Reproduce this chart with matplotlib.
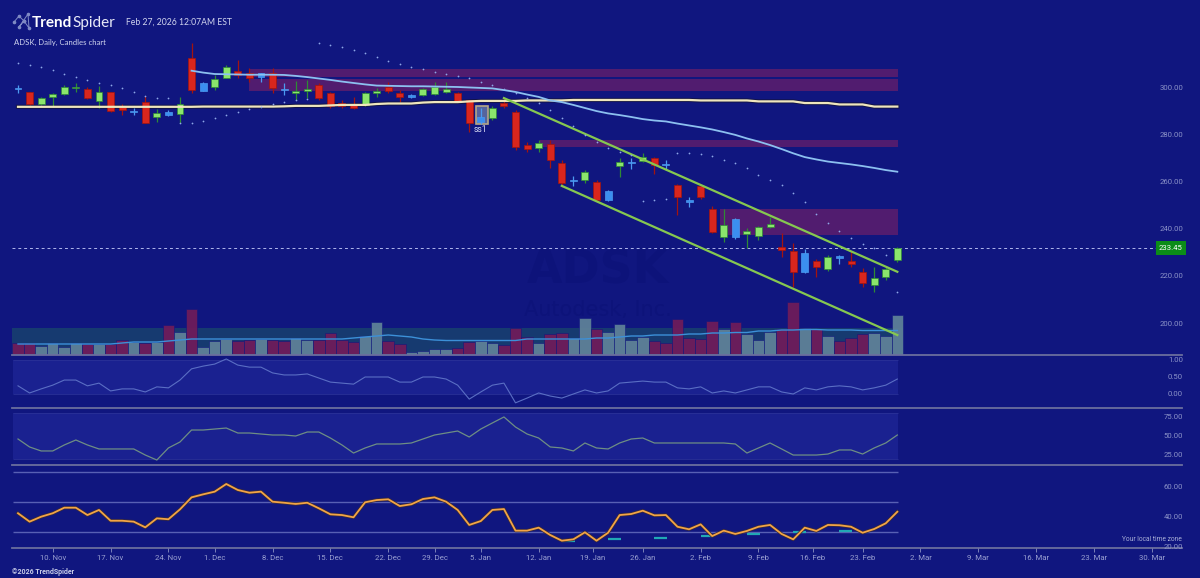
import matplotlib
matplotlib.use("Agg")
import matplotlib.pyplot as plt
import matplotlib.patheffects as pe
from matplotlib.patches import Rectangle
from matplotlib.lines import Line2D
from matplotlib import transforms
import numpy as np

# ---------------- data ----------------
tick_pos = [3, 8, 13, 17, 22, 27, 32, 36, 40, 45, 49.7, 54, 59, 64, 68.7, 73, 78, 83, 88, 93, 98]
tick_labels = ["10. Nov", "17. Nov", "24. Nov", "1. Dec", "8. Dec", "15. Dec", "22. Dec", "29. Dec",
               "5. Jan", "12. Jan", "19. Jan", "26. Jan", "2. Feb", "9. Feb", "16. Feb", "23. Feb",
               "2. Mar", "9. Mar", "16. Mar", "23. Mar", "30. Mar"]

opens = [300.7, 299.4, 294.5, 297.3, 298.7, 301.2, 300.7, 295.9, 299.5, 293.3,
         291.0, 295.5, 288.9, 289.8, 290.3, 313.9, 303.5, 301.6, 305.6, 308.6,
         307.8, 306.1, 307.8, 300.5, 299.2, 299.9, 302.5, 299.0, 294.8, 294.1,
         294.1, 299.0, 301.6, 299.3, 297.6, 298.3, 298.7, 299.7, 299.0, 296.2,
         286.9, 288.4, 294.8, 291.0, 277.1, 275.7, 277.6, 269.4, 261.9, 262.3,
         261.6, 253.8, 268.2, 269.4, 270.5, 271.5, 268.5, 260.2, 253.1, 259.8,
         249.9, 238.3, 238.0, 239.4, 238.6, 242.3, 234.0, 232.3, 223.4, 228.1,
         224.5, 229.4, 228.0, 223.4, 217.8, 221.1, 228.4]
highs = [302.5, 299.7, 297.6, 299.3, 302.6, 303.3, 301.6, 302.1, 299.7, 294.5,
         292.7, 297.9, 292.2, 292.0, 297.6, 320.2, 304.0, 306.8, 311.0, 313.1,
         309.7, 307.8, 309.7, 303.3, 304.2, 304.7, 303.3, 299.7, 296.2, 297.6,
         299.7, 301.2, 303.9, 300.4, 298.7, 301.2, 303.9, 303.9, 299.7, 296.2,
         292.8, 293.7, 297.0, 291.9, 278.5, 279.2, 279.2, 270.8, 264.0, 266.5,
         262.3, 258.1, 271.5, 271.5, 273.6, 272.2, 270.8, 260.6, 255.2, 260.2,
         251.3, 249.9, 246.1, 241.8, 242.8, 246.5, 240.0, 235.5, 232.9, 228.7,
         230.5, 230.5, 232.0, 224.9, 225.6, 225.6, 234.0]
lows = [299.2, 294.1, 294.1, 293.4, 298.3, 299.7, 296.5, 292.7, 291.2, 289.8,
        289.8, 286.3, 287.0, 289.4, 286.3, 299.2, 299.8, 300.4, 305.4, 305.4,
        303.9, 303.9, 299.0, 298.3, 296.2, 296.9, 296.2, 292.7, 292.7, 292.2,
        293.7, 297.6, 299.3, 295.5, 296.9, 297.9, 298.3, 299.0, 295.5, 282.8,
        286.0, 287.7, 292.8, 275.0, 274.3, 274.3, 267.3, 259.2, 259.8, 260.9,
        253.1, 253.5, 263.7, 267.0, 270.1, 264.8, 266.5, 247.5, 251.0, 254.1,
        239.7, 236.2, 237.2, 233.4, 236.9, 241.8, 229.8, 217.1, 222.8, 221.1,
        223.9, 226.7, 225.6, 217.1, 214.9, 219.9, 227.7]
closes = [300.9, 294.5, 296.9, 298.6, 301.8, 301.8, 296.9, 299.5, 291.5, 291.9,
          291.4, 286.6, 290.8, 291.2, 294.5, 300.4, 300.1, 305.1, 310.0, 306.8,
          305.4, 307.5, 301.2, 300.9, 300.1, 300.7, 296.9, 293.6, 293.6, 292.7,
          299.3, 300.0, 300.1, 297.6, 298.0, 300.7, 301.6, 300.7, 295.9, 286.3,
          289.0, 292.9, 293.6, 276.1, 275.3, 277.8, 270.8, 260.9, 262.3, 265.8,
          253.8, 257.8, 269.8, 270.0, 271.9, 268.6, 269.1, 255.2, 253.8, 255.2,
          240.4, 243.2, 245.6, 240.7, 242.5, 243.7, 232.6, 223.4, 231.2, 225.3,
          229.6, 230.1, 226.7, 218.5, 220.6, 224.5, 233.45]
candle_kind = ("brggggrgrr" "brgbgrbggr" "rbrbggrrrr" "ggrrbgggrr" "bgrrrgrrbg"
               "rbgbgrbrbr" "rgbgggrrbr" "gbrrggg")

volume = [1.17, 1.17, 0.93, 1.23, 0.83, 1.23, 1.10, 1.07, 1.10, 1.50,
          1.33, 1.17, 1.33, 3.00, 2.27, 4.57, 0.83, 1.43, 1.57, 1.37,
          1.47, 1.57, 1.50, 1.43, 1.70, 1.50, 1.50, 2.23, 1.50, 1.33,
          1.90, 3.27, 1.40, 1.07, 0.33, 0.43, 0.60, 0.60, 0.73, 1.27,
          1.43, 1.23, 1.00, 2.67, 1.83, 1.17, 2.07, 2.17, 1.67, 3.73,
          2.60, 2.27, 3.07, 1.50, 1.80, 1.40, 1.23, 3.57, 1.73, 1.60,
          3.43, 2.60, 3.33, 2.07, 1.50, 2.33, 2.57, 5.27, 2.67, 2.57,
          1.93, 1.40, 1.73, 2.07, 2.17, 1.93, 4.00]
volume_dir = ("dduuuududd" "udududuuud" "dudduudddd" "uudduuuudd" "uudddudduu"
              "duuuuddddd" "duduuuddud" "uddduuu")
volume_ma = [1.10, 1.10, 1.10, 1.10, 1.10, 1.10, 1.10, 1.10, 1.10, 1.20,
             1.30, 1.30, 1.30, 1.40, 1.50, 1.60, 1.60, 1.60, 1.60, 1.60,
             1.60, 1.60, 1.60, 1.60, 1.60, 1.60, 1.60, 1.60, 1.60, 1.70,
             1.80, 1.90, 2.00, 1.90, 1.80, 1.60, 1.50, 1.45, 1.45, 1.45,
             1.45, 1.45, 1.45, 1.45, 1.60, 1.60, 1.60, 1.60, 1.60, 1.60,
             1.70, 1.70, 1.80, 1.90, 1.90, 2.00, 2.00, 2.00, 2.10, 2.10,
             2.20, 2.20, 2.25, 2.25, 2.40, 2.40, 2.50, 2.50, 2.55, 2.55,
             2.50, 2.50, 2.50, 2.45, 2.45, 2.45, 2.45]

sma200 = [293.3, 293.3, 293.3, 293.3, 293.3, 293.3, 293.3, 293.3, 293.3, 293.3,
          293.3, 293.3, 293.3, 293.3, 293.3, 293.3, 293.4, 293.4, 293.4, 293.4,
          293.4, 293.4, 293.4, 293.5, 293.7, 293.7, 293.7, 293.9, 294.1, 294.1,
          294.1, 294.5, 294.7, 294.7, 294.7, 295.1, 295.3, 295.3, 295.3, 295.6,
          295.8, 295.8, 295.8, 295.8, 296.0, 296.0, 296.0, 296.0, 296.2, 296.2,
          296.2, 296.2, 296.2, 296.2, 296.2, 296.2, 296.2, 296.2, 296.2, 296.0,
          296.0, 296.0, 296.0, 296.0, 295.6, 295.6, 295.6, 295.6, 294.9, 294.9,
          294.9, 294.3, 294.3, 294.3, 293.4, 293.4, 293.4]
vwap_start = 15
vwap = [308.6, 307.8, 307.2, 307.1, 307.0, 306.9, 306.9, 306.9, 306.8, 306.4,
        305.9, 305.3, 304.7, 304.0, 303.4, 302.8, 302.3, 302.2, 302.1, 302.0,
        302.0, 301.9, 301.8, 301.7, 301.5, 301.3, 301.1, 300.4, 299.6, 298.5,
        297.5, 296.0, 295.3, 294.1, 292.8, 291.5, 290.5, 289.8, 289.0, 288.1,
        287.5, 287.1, 286.2, 285.4, 284.6, 283.7, 282.6, 281.4, 279.9, 278.6,
        277.1, 275.4, 273.6, 272.0, 271.0, 270.1, 269.5, 268.9, 268.2, 267.4,
        266.5, 265.8]
sar = [311.9, 311.0, 310.2, 308.9, 307.2, 305.9, 304.7, 303.4, 302.5, 301.3,
       299.6, 297.9, 297.0, 297.0, 286.4, 286.4, 287.3, 288.6, 289.8, 291.1,
       292.4, 293.2, 294.5, 295.3, 296.2, 296.6, 320.3, 319.5, 318.6, 317.4,
       316.1, 314.4, 312.7, 311.4, 310.2, 309.3, 308.0, 307.2, 306.4, 305.5,
       303.8, 302.5, 300.9, 299.2, 297.0, 294.9, 292.0, 288.6, 285.2, 281.4,
       278.4, 275.9, 274.2, 272.9, 253.4, 253.8, 254.2, 273.7, 273.7, 273.3,
       272.5, 270.8, 269.5, 267.4, 264.4, 262.3, 260.2, 256.8, 253.0, 247.9,
       244.1, 240.7, 237.7, 235.2, 233.5, 230.5, 214.8]

zones = [  # (start index, low price, high price)
    (20.0, 305.9, 309.3),
    (20.0, 299.8, 304.9),
    (45.1, 276.1, 279.2),
    (60.7, 239.0, 250.0),
]
channel_upper_idx = [42, 76]
channel_upper_val = [297.0, 223.4]
channel_lower_idx = [47, 76]
channel_lower_val = [259.8, 196.6]
last_price = 233.45
price_ticks = [300, 280, 260, 240, 220, 200]

osc1 = [0.24, 0.03, 0.15, 0.26, 0.41, 0.41, 0.24, 0.32, 0.09, 0.15,
        0.15, 0.06, 0.21, 0.18, 0.41, 0.74, 0.82, 0.88, 1.03, 0.85,
        0.79, 0.79, 0.62, 0.56, 0.56, 0.59, 0.47, 0.35, 0.32, 0.29,
        0.50, 0.50, 0.50, 0.35, 0.35, 0.50, 0.50, 0.44, 0.26, -0.15,
        0.06, 0.26, 0.32, -0.26, -0.12, 0.03, -0.06, -0.12, 0.00, 0.12,
        0.03, 0.09, 0.32, 0.35, 0.38, 0.35, 0.35, 0.18, 0.15, 0.21,
        0.03, 0.09, 0.03, 0.12, 0.21, 0.21, 0.06, 0.00, 0.18, 0.12,
        0.21, 0.24, 0.21, 0.12, 0.18, 0.26, 0.44]
osc1_ticks = [1.0, 0.5, 0.0]

osc2 = [46.1, 35.7, 30.5, 30.5, 38.3, 44.8, 38.3, 33.1, 33.1, 33.1,
        33.1, 25.2, 18.7, 34.4, 42.2, 57.8, 57.8, 59.1, 60.4, 53.9,
        53.9, 52.6, 51.3, 51.3, 50.0, 55.2, 55.2, 47.4, 38.3, 27.8,
        34.4, 39.6, 39.6, 39.6, 40.9, 46.1, 51.3, 53.9, 56.5, 48.7,
        59.1, 67.0, 74.8, 61.7, 52.6, 47.4, 35.7, 34.4, 30.5, 40.9,
        34.4, 33.1, 40.9, 46.1, 47.4, 40.9, 40.9, 40.9, 40.9, 40.9,
        40.9, 40.9, 39.6, 27.8, 34.4, 40.9, 33.1, 25.2, 25.2, 25.2,
        26.5, 31.8, 31.8, 26.5, 34.4, 40.9, 51.3]
osc2_ticks = [75, 50, 25]

osc3 = [42.3, 36.7, 40.0, 42.3, 46.0, 46.0, 41.1, 44.5, 37.3, 37.3,
        36.7, 32.9, 38.9, 38.3, 44.9, 52.9, 54.9, 56.7, 61.8, 57.8,
        56.0, 56.7, 50.0, 49.3, 48.5, 49.3, 45.6, 41.6, 41.1, 39.6,
        49.6, 51.1, 51.6, 47.1, 48.3, 51.8, 52.9, 50.0, 44.5, 34.5,
        37.1, 44.5, 45.1, 30.7, 30.7, 32.7, 27.8, 24.0, 24.9, 29.6,
        24.0, 29.3, 41.1, 41.8, 44.0, 40.9, 41.1, 33.3, 31.6, 34.9,
        27.1, 30.7, 28.5, 30.5, 33.3, 34.5, 28.5, 24.9, 32.7, 30.5,
        34.5, 34.3, 33.3, 29.3, 31.8, 35.6, 43.3]
osc3_ticks = [60, 40, 20]
osc3_levels = [70, 50, 30]
dash_idx = [47, 51, 55, 59, 63, 67, 71]
dash_val = [24.0, 24.9, 26.0, 27.1, 28.5, 29.6, 30.7]

# ---------------- style ----------------
BG = "#10167f"
FONT = ["Roboto", "DejaVu Sans"]
LBL = "#8b92c8"
SEP = "#6a6e9e"
W, H = 1200, 578

fig = plt.figure(figsize=(12, 5.78), dpi=100, facecolor=BG)


def fx(px):
    return px / W


def fy(py):
    return 1 - py / H


def panel(top, bottom, z=2):
    ax = fig.add_axes([fx(12), fy(bottom), fx(1186) - fx(12), (bottom - top) / H], zorder=z)
    ax.patch.set_visible(False)
    for s in ax.spines.values():
        s.set_visible(False)
    ax.set_xlim(-0.519, 100.95)
    ax.set_xticks([])
    ax.set_yticks([])
    return ax


def right_labels(ax, vals, fmt="{:.2f}", dy=0.0):
    tr = transforms.offset_copy(ax.get_yaxis_transform(), fig=fig, x=0, y=dy, units="points")
    for v in vals:
        ax.text(0.9975, v, fmt.format(v), transform=tr, ha="right", va="center",
                fontsize=5.6, color=LBL, family=FONT)


x = np.arange(len(closes))
n = len(closes)

# watermark
fig.text(fx(598), fy(271), "ADSK", fontsize=33, fontweight="bold", color="#0d137a",
         ha="center", va="center", zorder=-5, family=["DejaVu Sans"])
fig.text(fx(598), fy(310), "Autodesk, Inc.", fontsize=15, color="#0d137a",
         ha="center", va="center", zorder=-5, family=["DejaVu Sans"])

# volume axis (below price)
axv = panel(32, 355, z=1)
axv.set_ylim(0, 32.3)
axv.fill_between([-0.5, n - 0.5], 0, 2.7, color="#163a70", lw=0, zorder=0)
vcol = ["#5e8098" if d == "u" else "#6e1c5a" for d in volume_dir]
axv.bar(x, volume, width=1.0, color=vcol, edgecolor=BG, linewidth=0.4, alpha=0.95, zorder=1)
axv.plot(x, volume_ma, color="#3c90d8", lw=1.0, zorder=2)

# price axis
ax = panel(32, 355, z=2)
ax.set_ylim(188.14, 325.0)
for s0, lo, hi in zones:
    ax.add_patch(Rectangle((s0, lo), 76.1 - s0, hi - lo, facecolor="#571d6e", edgecolor="none",
                           alpha=0.92, zorder=1))

ax.plot(x, sma200, color="#14143a", lw=3.0, zorder=2, alpha=0.8)
ax.plot(x, sma200, color="#efe6bd", lw=1.6, zorder=5)
ax.plot(np.arange(vwap_start, vwap_start + len(vwap)), vwap, color="#8cc0f0", lw=1.3, zorder=5)
ax.plot(channel_upper_idx, channel_upper_val, color="#86c850", lw=1.6, zorder=6)
ax.plot(channel_lower_idx, channel_lower_val, color="#86c850", lw=1.6, zorder=6)

# highlight box around the marked candle
ax.add_patch(Rectangle((39.55, 286.0), 1.05, 7.8, facecolor="#55649e", edgecolor="#b5a888",
                       lw=1.2, zorder=3))
ax.text(40, 283.5, "ss1", color="#d8dcf4", fontsize=6.2, ha="center", va="center", family=FONT, zorder=7)

colors = {"g": ("#8be56c", "#2f8a35"), "r": ("#d9261d", "#a3140f"), "b": ("#3b8ff0", "#4d9af0")}
for k in "grb":
    idx = [i for i in range(n) if candle_kind[i] == k]
    face, edge = colors[k]
    o = np.array([opens[i] for i in idx])
    c = np.array([closes[i] for i in idx])
    lo = np.minimum(o, c)
    h = np.maximum(np.abs(c - o), 0.5)
    ax.vlines(idx, [lows[i] for i in idx], [highs[i] for i in idx], colors=edge, lw=0.9, zorder=4)
    ax.bar(idx, h, bottom=lo, width=0.6, color=face, edgecolor=edge, linewidth=0.5, zorder=4)

ax.scatter(x, sar, s=1.6, color="#8ea6e8", lw=0, zorder=6)

# last price line and label
ax.axhline(last_price, xmin=0, xmax=0.975, color="#b0b6ec", lw=0.7, ls=(0, (3, 3)), zorder=3)
trp = ax.get_yaxis_transform()
ax.add_patch(Rectangle((0.9745, last_price - 2.9), 0.0255, 5.8, transform=trp,
                       facecolor="#0b8c18", edgecolor="none", zorder=8, clip_on=False))
ax.text(0.9872, last_price, f"{last_price:.2f}", transform=trp, ha="center", va="center",
        fontsize=5.6, color="white", family=FONT, zorder=9)
right_labels(ax, price_ticks, dy=2.5)

# oscillator 1
a1 = panel(355, 408)
a1.set_ylim(-0.412, 1.147)
a1.fill_between([-0.45, n - 0.9], 0, 1, color="#1a2190", lw=0)
a1.hlines([0, 1], -0.45, n - 0.9, color="#2a3198", lw=0.6)
a1.plot(x, osc1, color="#5a6ec4", lw=0.8)
right_labels(a1, osc1_ticks)

# oscillator 2
a2 = panel(408, 465)
a2.set_ylim(12.2, 86.5)
a2.fill_between([-0.45, n - 0.9], 20, 80, color="#1a2190", lw=0)
a2.hlines([20, 80], -0.45, n - 0.9, color="#2a3198", lw=0.6)
a2.plot(x, osc2, color="#6e8e84", lw=0.9)
right_labels(a2, osc2_ticks)

# oscillator 3
a3 = panel(465, 548.3)
a3.set_ylim(18.93, 74.47)
a3.hlines(osc3_levels, -0.45, n - 0.9, color="#5860b4", lw=1.0)
for d0, dv in zip(dash_idx, dash_val):
    a3.plot([d0, d0 + 1.1], [dv, dv], color="#21a9b4", lw=1.6, solid_capstyle="butt")
a3.plot(x, osc3, color="#f2a446", lw=1.3,
        path_effects=[pe.Stroke(linewidth=2.4, foreground="#3a2a3a"), pe.Normal()])
right_labels(a3, osc3_ticks)
a3.set_xticks(tick_pos)
a3.set_xticklabels(tick_labels, fontsize=5.6, color="#9aa0d2", family=FONT)
a3.tick_params(axis="x", length=3, width=0.7, color="#7a80b8", pad=2)
fig.text(fx(1182), fy(539.5), "Your local time zone", ha="right", va="center",
         fontsize=4.8, color="#a8aed6", family=FONT)

# separators
for py in [354.5, 408, 465, 548.3]:
    fig.add_artist(Line2D([fx(12), fx(1182)], [fy(py), fy(py)], color=SEP, lw=1.3))

# header
icon_pts = [(14, 22), (19, 16), (24, 21), (19, 27), (28, 14), (29, 28), (24, 21)]
fig.add_artist(Line2D([fx(p[0]) for p in icon_pts], [fy(p[1]) for p in icon_pts],
                      color="#7f8ac4", lw=0.7, marker="o", ms=1.6))
t1 = fig.text(fx(32), fy(27), "Trend", fontsize=11, fontweight="bold", color="white",
              family=["Lato", "DejaVu Sans"], va="baseline")
fig.canvas.draw()
bb = t1.get_window_extent(renderer=fig.canvas.get_renderer())
fig.text(bb.x1 / W + 0.0005, fy(27), "Spider", fontsize=11, color="#e8eaf8",
         family=["Lato", "DejaVu Sans"], va="baseline")
fig.text(fx(126), fy(22), "Feb 27, 2026 12:07AM EST", fontsize=6.2, color="#d0d4ee",
         family=["Lato", "DejaVu Sans"], va="center")
fig.text(fx(14), fy(42), "ADSK, Daily, Candles chart", fontsize=5.6, color="#d0d4ee",
         family=["Lato", "DejaVu Sans"], va="center")
fig.text(fx(12), fy(572), "\u00a92026 TrendSpider", fontsize=5.0, fontweight="bold",
         color="#c8cce8", family=FONT, va="center")

fig.savefig("out.png", dpi=100, facecolor=BG)
